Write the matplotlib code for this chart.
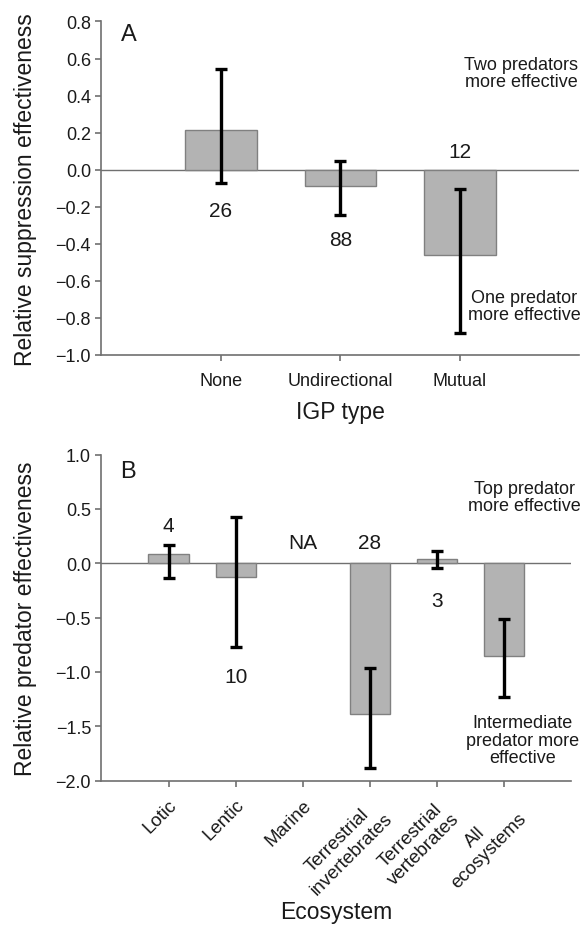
import matplotlib as mpl
mpl.use('agg')
import matplotlib.pyplot as plt
import numpy as np

plt.rcParams['font.family'] = ['Liberation Sans', 'DejaVu Sans']

# panel A: IGP type
igp_types = ['None', 'Undirectional', 'Mutual']
igp_mean = [0.215, -0.09, -0.46]
igp_lo = [-0.073, -0.243, -0.88]
igp_hi = [0.545, 0.045, -0.104]
igp_n = ['26', '88', '12']

# panel B: ecosystem (Marine has no data)
eco_types = ['Lotic', 'Lentic', 'Marine', 'Terrestrial\ninvertebrates',
             'Terrestrial\nvertebrates', 'All\necosystems']
eco_mean = [0.086, -0.123, np.nan, -1.39, 0.04, -0.85]
eco_lo = [-0.135, -0.773, np.nan, -1.886, -0.046, -1.233]
eco_hi = [0.168, 0.423, np.nan, -0.96, 0.116, -0.512]
eco_n = ['4', '10', 'NA', '28', '3', '']

barcol = '#b3b3b3'
edgecol = '#808080'
axcol = '#707070'
txtcol = '#1a1a1a'


def fmt(v, pos):
    s = '%.1f' % v
    if s == '-0.0':
        s = '0.0'
    return s.replace('-', '\u2212')


def style(ax):
    for s in ['top', 'right']:
        ax.spines[s].set_visible(False)
    for s in ['left', 'bottom']:
        ax.spines[s].set_color(axcol)
        ax.spines[s].set_linewidth(1.2)
    ax.tick_params(colors=axcol, labelcolor=txtcol, labelsize=13,
                   length=4, width=1.2, direction='out')
    ax.yaxis.set_major_formatter(mpl.ticker.FuncFormatter(fmt))
    ax.axhline(0, color=axcol, lw=1.0, zorder=1)


fig = plt.figure(figsize=(5.85, 9.29), dpi=100)

# ---- A ----
axA = fig.add_axes([0.1735, 0.6168, 0.817, 0.359])
xa = np.arange(1, len(igp_types) + 1)
ma = np.array(igp_mean)
axA.bar(xa, ma, width=0.6, color=barcol, edgecolor=edgecol, linewidth=1.0, zorder=2)
yerr = [ma - np.array(igp_lo), np.array(igp_hi) - ma]
axA.errorbar(xa, ma, yerr=yerr, fmt='none', ecolor='black', elinewidth=2.4,
             capsize=4, capthick=2.4, zorder=3)
axA.set_xlim(0, 4)
axA.set_ylim(-1.0, 0.8)
axA.set_yticks(np.arange(-1.0, 0.81, 0.2))
axA.set_xticks(xa)
axA.set_xticklabels(igp_types)
style(axA)
axA.tick_params(axis='x', pad=8)
axA.set_ylabel('Relative suppression effectiveness', fontsize=16.5, color=txtcol)
axA.yaxis.set_label_coords(-0.135, 0.5)
axA.set_xlabel('IGP type', fontsize=16.5, color=txtcol, labelpad=8)
axA.text(0.058, 0.963, 'A', transform=axA.transAxes, fontsize=17,
         ha='center', va='center', color=txtcol)
for x, n, y in zip(xa, igp_n, [-0.221, -0.374, 0.096]):
    axA.text(x, y, n, ha='center', va='center', fontsize=15, color=txtcol)
axA.text(3.515, 0.522, 'Two predators\nmore effective', ha='center', va='center',
         fontsize=13, color=txtcol, linespacing=1.0)
axA.text(3.54, -0.734, 'One predator\nmore effective', ha='center', va='center',
         fontsize=13, color=txtcol, linespacing=1.0)

# ---- B ----
axB = fig.add_axes([0.1735, 0.1586, 0.803, 0.351])
xb = np.arange(1, len(eco_types) + 1)
mb = np.array(eco_mean)
ok = ~np.isnan(mb)
axB.bar(xb[ok], mb[ok], width=0.6, color=barcol, edgecolor=edgecol, linewidth=1.0, zorder=2)
yerrb = [(mb - np.array(eco_lo))[ok], (np.array(eco_hi) - mb)[ok]]
axB.errorbar(xb[ok], mb[ok], yerr=yerrb, fmt='none', ecolor='black', elinewidth=2.4,
             capsize=4, capthick=2.4, zorder=3)
axB.set_xlim(0, 7)
axB.set_ylim(-2.0, 1.0)
axB.set_yticks(np.arange(-2.0, 1.01, 0.5))
axB.set_xticks(xb)
axB.set_xticklabels(eco_types, rotation=45, ha='right', rotation_mode='anchor',
                    multialignment='center')
style(axB)
axB.tick_params(axis='x', pad=7, labelsize=13.5)
axB.set_ylabel('Relative predator effectiveness', fontsize=16.5, color=txtcol)
axB.yaxis.set_label_coords(-0.137, 0.5)
axB.set_xlabel('Ecosystem', fontsize=16.5, color=txtcol, labelpad=1)
axB.text(0.056, 0.951, 'B', transform=axB.transAxes, fontsize=17,
         ha='center', va='center', color=txtcol)
for x, n, y in zip(xb, eco_n, [0.346, -1.046, 0.187, 0.187, -0.344, 0]):
    if n:
        axB.text(x, y, n, ha='center', va='center', fontsize=15, color=txtcol)
axB.text(6.3, 0.61, 'Top predator\nmore effective', ha='center', va='center',
         fontsize=13, color=txtcol, linespacing=1.0)
axB.text(6.28, -1.626, 'Intermediate\npredator more\neffective', ha='center',
         va='center', fontsize=13, color=txtcol, linespacing=1.05)

plt.savefig('out.png', dpi=100)
